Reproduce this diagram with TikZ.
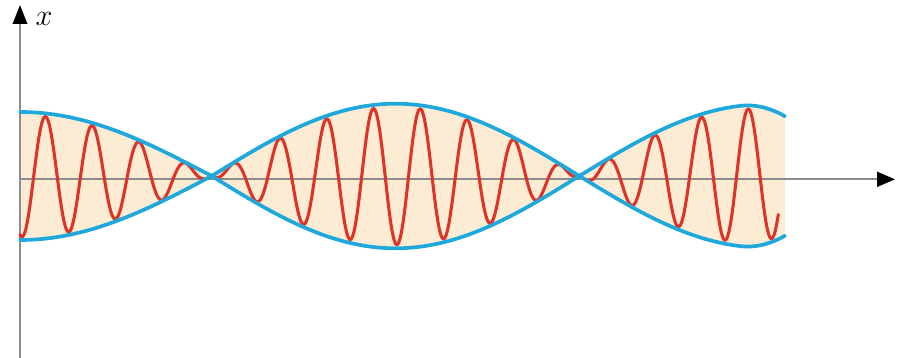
\documentclass[tikz,border=0pt]{standalone}
\usetikzlibrary{arrows.meta}
\definecolor{peach}{RGB}{253,236,212}
\definecolor{envblue}{RGB}{30,168,220}
\definecolor{wavered}{RGB}{222,52,40}
\definecolor{axisgray}{RGB}{140,140,140}
\begin{document}
\begin{tikzpicture}[x=0.02cm,y=-0.02cm,
  declare function={
    taper(\x)=(\x>740)*(1-0.15*((\x-740)/45)^2)+(\x<=740);
    env(\x)=(\x<211.7)*64*sin(0.469483*(211.7-\x))
           +and(\x>=211.7,\x<579.3)*72.3*sin(0.489663*(\x-211.7))
           +(\x>=579.3)*71.5*sin(0.489663*(\x-579.3))*taper(\x);
  },
  axisline/.style={draw=axisgray,line width=1.1pt},
  envline/.style={draw=envblue,line width=2.1pt,line cap=round},
  waveline/.style={draw=wavered,line width=1.75pt,line join=round,line cap=round},
  labeltext/.style={font=\LARGE,inner sep=0pt}
]
\useasboundingbox (0,0) rectangle (904,358);
% filled envelope
\fill[peach] plot[domain=20:785,samples=220] (\x,{176-env(\x)})
  -- plot[domain=785:20,samples=220] (\x,{176+env(\x)}) -- cycle;
% axes
\coordinate (vbot) at (20,358);
\coordinate (vtop) at (20,5);
\coordinate (hleft) at (20,179.3);
\coordinate (hright) at (895,179.3);
\draw[axisline,-{Triangle[width=0.29cm,length=0.38cm,color=black]}] (vbot) -- (vtop);
\draw[axisline,-{Triangle[width=0.3cm,length=0.36cm,color=black]}] (hleft) -- (hright);
\node[labeltext] (xlab) at (44,19) {$x$};
% carrier wave
\draw[waveline] plot[domain=20:778.3,samples=800,variable=\t]
  (\t,{176+0.95*env(\t)*cos(7.682459*(\t-22))});
% envelope curves
\draw[envline] plot[domain=20:785,samples=220] (\x,{176-env(\x)});
\draw[envline] plot[domain=20:785,samples=220] (\x,{176+env(\x)});
\end{tikzpicture}
\end{document}
